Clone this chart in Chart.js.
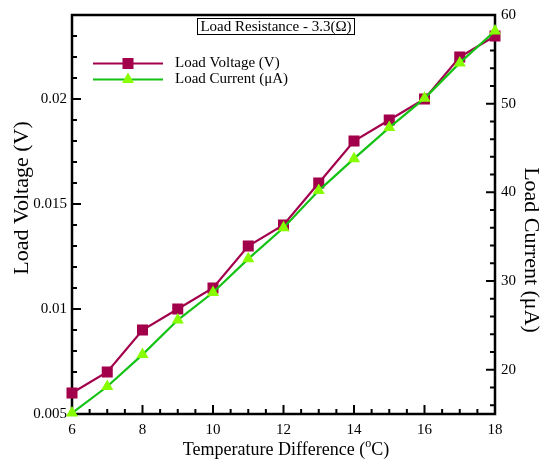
<!DOCTYPE html>
<html>
<head>
<meta charset="utf-8">
<title>Load Voltage and Current vs Temperature Difference</title>
<script src="https://cdn.jsdelivr.net/npm/chart.js@4.4.1/dist/chart.umd.min.js"></script>
<style>
  html, body { margin: 0; padding: 0; background: #fff; }
  #wrap { width: 543px; height: 462px; }
</style>
</head>
<body>
<div id="wrap"><canvas id="loadChart"></canvas></div>
<script>
const tempDiff = [6, 7, 8, 9, 10, 11, 12, 13, 14, 15, 16, 17, 18];
const loadVoltage = [0.006, 0.007, 0.009, 0.010, 0.011, 0.013, 0.014, 0.016, 0.018, 0.019, 0.020, 0.022, 0.023];
const loadCurrent = [15.1, 18.1, 21.7, 25.6, 28.7, 32.5, 36.0, 40.2, 43.8, 47.3, 50.6, 54.6, 58.2];

// labelled ticks (the rest are minor marks)
const tempTicks = [6, 8, 10, 12, 14, 16, 18];
const voltageTicks = [0.005, 0.01, 0.015, 0.02];
const currentTicks = [20, 30, 40, 50, 60];

const VOLT_COLOR = '#a3004c';
const CURR_LINE = '#14c214';
const CURR_MARK = '#88ff00';
const SERIF = "'Liberation Serif', 'Times New Roman', serif";

Chart.defaults.font.family = SERIF;
Chart.defaults.font.size = 15;
Chart.defaults.color = '#000';

function stepList(from, to, step) {
  const out = [];
  for (let v = from; v <= to + step / 2; v += step) out.push(+v.toFixed(4));
  return out;
}

const isMajor = (list, v) => list.some((t) => Math.abs(t - v) < 1e-9);

// frame + inward tick marks, drawn under the data
const frameAndTicks = {
  id: 'frameAndTicks',
  beforeDatasetsDraw(chart) {
    const { ctx, chartArea: a, scales } = chart;
    ctx.save();
    ctx.strokeStyle = '#000';
    ctx.lineWidth = 2.5;
    ctx.strokeRect(a.left, a.top, a.right - a.left, a.bottom - a.top);

    ctx.lineWidth = 2;
    ctx.beginPath();
    scales.x.ticks.forEach(({ value }) => {
      const px = scales.x.getPixelForValue(value);
      const len = isMajor(tempTicks, value) ? 9 : 5;
      ctx.moveTo(px, a.bottom);
      ctx.lineTo(px, a.bottom - len);
    });
    scales.y.ticks.forEach(({ value }) => {
      const py = scales.y.getPixelForValue(value);
      const len = isMajor(voltageTicks, value) ? 9 : 5;
      ctx.moveTo(a.left, py);
      ctx.lineTo(a.left + len, py);
    });
    scales.y1.ticks.forEach(({ value }) => {
      const py = scales.y1.getPixelForValue(value);
      const len = isMajor(currentTicks, value) ? 9 : 5;
      ctx.moveTo(a.right, py);
      ctx.lineTo(a.right - len, py);
    });
    ctx.stroke();
    ctx.restore();
  },

  // legend, resistance note and axis titles
  afterDraw(chart) {
    const { ctx } = chart;
    ctx.save();
    ctx.fillStyle = '#000';

    // legend
    const rows = [
      { y: 63.5, text: 'Load Voltage (V)', line: VOLT_COLOR, mark: VOLT_COLOR, shape: 'rect' },
      { y: 79.5, text: 'Load Current (\u03bcA)', line: CURR_LINE, mark: CURR_MARK, shape: 'triangle' },
    ];
    rows.forEach((r) => {
      ctx.strokeStyle = r.line;
      ctx.lineWidth = 2;
      ctx.beginPath();
      ctx.moveTo(93, r.y);
      ctx.lineTo(163, r.y);
      ctx.stroke();
      ctx.fillStyle = r.mark;
      ctx.beginPath();
      if (r.shape === 'rect') {
        ctx.rect(128 - 5.5, r.y - 5.5, 11, 11);
      } else {
        ctx.moveTo(128, r.y - 7);
        ctx.lineTo(134, r.y + 3.5);
        ctx.lineTo(122, r.y + 3.5);
        ctx.closePath();
      }
      ctx.fill();
      ctx.fillStyle = '#000';
      ctx.font = `15px ${SERIF}`;
      ctx.textAlign = 'left';
      ctx.textBaseline = 'middle';
      ctx.fillText(r.text, 175, r.y);
    });

    // resistance note
    const note = 'Load Resistance - 3.3(\u03a9)';
    ctx.font = `15px ${SERIF}`;
    const nw = ctx.measureText(note).width + 6;
    ctx.strokeStyle = '#000';
    ctx.lineWidth = 1;
    ctx.strokeRect(Math.round(276 - nw / 2) + 0.5, 18.5, Math.round(nw), 16);
    ctx.textAlign = 'center';
    ctx.textBaseline = 'middle';
    ctx.fillText(note, 276, 27);

    // x title with superscript degree
    const p1 = 'Temperature Difference (';
    const p2 = 'C)';
    ctx.font = `18px ${SERIF}`;
    const w1 = ctx.measureText(p1).width;
    const w3 = ctx.measureText(p2).width;
    ctx.font = `12px ${SERIF}`;
    const w2 = ctx.measureText('o').width;
    let x = 286 - (w1 + w2 + w3) / 2;
    ctx.textAlign = 'left';
    ctx.textBaseline = 'alphabetic';
    ctx.font = `18px ${SERIF}`;
    ctx.fillText(p1, x, 455);
    x += w1;
    ctx.font = `12px ${SERIF}`;
    ctx.fillText('o', x, 447);
    x += w2;
    ctx.font = `18px ${SERIF}`;
    ctx.fillText(p2, x, 455);

    // y titles
    ctx.textAlign = 'center';
    ctx.textBaseline = 'middle';
    ctx.font = `22px ${SERIF}`;
    ctx.save();
    ctx.translate(22, 198);
    ctx.rotate(-Math.PI / 2);
    ctx.fillText('Load Voltage (V)', 0, 0);
    ctx.restore();
    ctx.save();
    ctx.translate(531, 250);
    ctx.rotate(Math.PI / 2);
    ctx.fillText('Load Current (\u03bcA)', 0, 0);
    ctx.restore();

    ctx.restore();
  },
};

const ctx = document.getElementById('loadChart').getContext('2d');

new Chart(ctx, {
  type: 'line',
  data: {
    datasets: [
      {
        label: 'Load Voltage (V)',
        data: tempDiff.map((t, i) => ({ x: t, y: loadVoltage[i] })),
        yAxisID: 'y',
        borderColor: VOLT_COLOR,
        backgroundColor: VOLT_COLOR,
        borderWidth: 2.2,
        pointStyle: 'rect',
        pointRadius: 7.8,
        pointBorderWidth: 0,
        clip: false,
        order: 2,
      },
      {
        label: 'Load Current (\u03bcA)',
        data: tempDiff.map((t, i) => ({ x: t, y: loadCurrent[i] })),
        yAxisID: 'y1',
        borderColor: CURR_LINE,
        backgroundColor: CURR_MARK,
        pointBorderColor: CURR_MARK,
        borderWidth: 2.2,
        pointStyle: 'triangle',
        pointRadius: 7,
        pointBorderWidth: 0,
        clip: false,
        order: 1,
      },
    ],
  },
  options: {
    responsive: true,
    maintainAspectRatio: false,
    animation: false,
    layout: { padding: { top: 10, left: 0, right: 0, bottom: 0 } },
    plugins: { legend: { display: false }, tooltip: { enabled: false } },
    scales: {
      x: {
        type: 'linear',
        min: 6,
        max: 18,
        grid: { display: false, drawTicks: false },
        border: { display: false },
        afterBuildTicks: (s) => { s.ticks = stepList(6, 18, 0.5).map((value) => ({ value })); },
        afterFit: (s) => { s.height = 48; },
        ticks: {
          autoSkip: false,
          maxRotation: 0,
          padding: 7,
          callback: (v) => (isMajor(tempTicks, v) ? String(v) : ''),
        },
      },
      y: {
        position: 'left',
        min: 0.005,
        max: 0.024,
        grid: { display: false, drawTicks: false },
        border: { display: false },
        afterBuildTicks: (s) => { s.ticks = stepList(0.005, 0.024, 0.001).map((value) => ({ value })); },
        afterFit: (s) => { s.width = 72; },
        ticks: {
          autoSkip: false,
          padding: 5,
          callback: (v) => (isMajor(voltageTicks, v) ? String(+v.toFixed(3)) : ''),
        },
      },
      y1: {
        position: 'right',
        min: 15,
        max: 60,
        grid: { display: false, drawTicks: false },
        border: { display: false },
        afterBuildTicks: (s) => { s.ticks = stepList(16, 60, 2).map((value) => ({ value })); },
        afterFit: (s) => { s.width = 48; },
        ticks: {
          autoSkip: false,
          padding: 6,
          callback: (v) => (isMajor(currentTicks, v) ? String(v) : ''),
        },
      },
    },
  },
  plugins: [frameAndTicks],
});
</script>
</body>
</html>
